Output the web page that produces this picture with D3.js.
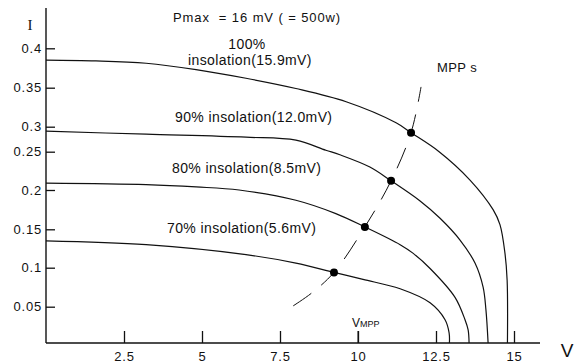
<!DOCTYPE html>
<meta charset="utf-8">
<style>
body { margin: 0; background: #fff; }
svg text { font-family: "Liberation Sans", Arial, sans-serif; fill: #111; }
.curve { fill: none; stroke: #111; stroke-width: 1.2; }
.axis path, .axis line { stroke: #111; stroke-width: 1.3; }
.axis text { font-size: 13px; letter-spacing: 0.8px; }
</style>
<svg width="581" height="363"></svg>
<script src="https://d3js.org/d3.v7.min.js"></script>
<script>

// I-V curves, [V, I]
var curve100 = [[0,0.385],[1.60,0.384],[3.21,0.381],[4.81,0.373],[6.41,0.362],[8.01,0.349],[9.62,0.332],[11.22,0.305],[11.70,0.288],[12.60,0.250],[13.59,0.213],[14.33,0.175],[14.55,0.156],[14.71,0.119],[14.78,0.084],[14.79,0]];
var curve90 = [[0,0.291],[3.21,0.285],[6.41,0.279],[8.01,0.273],[8.97,0.253],[9.42,0.246],[10.38,0.230],[11.06,0.212],[11.99,0.186],[12.63,0.164],[13.27,0.136],[13.75,0.106],[14.01,0.075],[14.10,0.046],[14.17,0]];
var curve80 = [[0,0.209],[3.21,0.207],[4.81,0.204],[6.19,0.200],[8.01,0.187],[9.29,0.170],[10.22,0.153],[11.35,0.130],[11.76,0.119],[12.31,0.099],[13.11,0.062],[13.43,0.032],[13.53,0.018],[13.56,0]];
var curve70 = [[0,0.135],[3.21,0.130],[6.41,0.117],[8.01,0.106],[9.23,0.094],[10.16,0.085],[11.35,0.073],[12.31,0.055],[12.79,0.032],[12.92,0.014],[12.93,0]];
var curves = [curve100, curve90, curve80, curve70];

// maximum power points and the dashed locus through them
var mppPoints = [[11.70,0.288],[11.06,0.212],[10.22,0.153],[9.23,0.094]];
var mppLocus = [[7.92,0.051],[8.53,0.068],[9.23,0.094],[10.22,0.153],[11.06,0.212],[11.70,0.288],[12.02,0.351]];

var xTicks = [2.5, 5, 7.5, 10, 12.5, 15];
var yTicks = [0.05, 0.1, 0.15, 0.2, 0.25, 0.3, 0.35, 0.4];

var svg = d3.select("svg");

var x = d3.scaleLinear().domain([0, 15]).range([46, 514]);
// the printed axis is not evenly spaced, so the scale is piecewise
var y = d3.scaleLinear()
  .domain([0, 0.05, 0.1, 0.15, 0.2, 0.25, 0.3, 0.35, 0.4])
  .range([343, 306.7, 267.7, 229.3, 190, 151.7, 126.7, 87.7, 48.3]);

// axes
svg.append("g")
  .attr("class", "axis")
  .attr("transform", "translate(0,343)")
  .call(d3.axisBottom(x).tickValues(xTicks).tickSizeInner(-12).tickSizeOuter(0).tickPadding(9).tickFormat(d3.format("")))
  .call(function(g) { g.select(".domain").remove(); });

svg.append("g")
  .attr("class", "axis")
  .attr("transform", "translate(46,0)")
  .call(d3.axisLeft(y).tickValues(yTicks).tickSizeInner(-9).tickSizeOuter(0).tickPadding(4).tickFormat(d3.format("")))
  .call(function(g) { g.select(".domain").remove(); });

svg.append("line").attr("x1", 46).attr("x2", 540).attr("y1", 343).attr("y2", 343)
  .attr("stroke", "#111").attr("stroke-width", 1.6);
svg.append("line").attr("x1", 46).attr("x2", 46).attr("y1", 8).attr("y2", 343)
  .attr("stroke", "#111").attr("stroke-width", 1.4);

svg.append("text").attr("x", 30).attr("y", 30).attr("text-anchor", "middle")
  .style("font-family", "'Liberation Serif', serif").style("font-size", "15px").text("I");
svg.append("text").attr("x", 567).attr("y", 357).attr("text-anchor", "middle")
  .style("font-size", "19px").text("V");

// curves
var line = d3.line()
  .x(function(d) { return x(d[0]); })
  .y(function(d) { return y(d[1]); })
  .curve(d3.curveCatmullRom.alpha(0.5));

svg.selectAll("path.curve")
  .data(curves)
  .enter().append("path")
  .attr("class", "curve")
  .attr("d", line);

svg.append("path")
  .datum(mppLocus)
  .attr("fill", "none")
  .attr("stroke", "#111")
  .attr("stroke-width", 1)
  .attr("stroke-dasharray", "22,13")
  .attr("d", line);

svg.selectAll("circle.mpp")
  .data(mppPoints)
  .enter().append("circle")
  .attr("class", "mpp")
  .attr("cx", function(d) { return x(d[0]); })
  .attr("cy", function(d) { return y(d[1]); })
  .attr("r", 4)
  .attr("fill", "#000");

// labels
var labelStyle = function(t) { t.style("font-size", "14px").style("letter-spacing", "0.4px"); };
svg.append("text").attr("x", 173).attr("y", 22).style("font-size", "13px").style("letter-spacing", "0.9px")
  .attr("xml:space", "preserve").text("Pmax  = 16 mV ( = 500w)");
svg.append("text").attr("x", 247).attr("y", 49).attr("text-anchor", "middle").call(labelStyle).text("100%");
svg.append("text").attr("x", 188).attr("y", 65).call(labelStyle).text("insolation(15.9mV)");
svg.append("text").attr("x", 175).attr("y", 122).call(labelStyle).text("90% insolation(12.0mV)");
svg.append("text").attr("x", 172).attr("y", 173).call(labelStyle).text("80% insolation(8.5mV)");
svg.append("text").attr("x", 167).attr("y", 233).call(labelStyle).text("70% insolation(5.6mV)");
svg.append("text").attr("x", 437).attr("y", 72).style("font-size", "13px").style("letter-spacing", "0.4px").text("MPP s");

var vmpp = svg.append("text").attr("x", 352).attr("y", 327).style("font-size", "12px");
vmpp.append("tspan").text("V");
vmpp.append("tspan").style("font-size", "9px").text("MPP");
svg.append("line").attr("x1", x(10)).attr("x2", x(10)).attr("y1", 331).attr("y2", 343).attr("stroke", "#111");

</script>
